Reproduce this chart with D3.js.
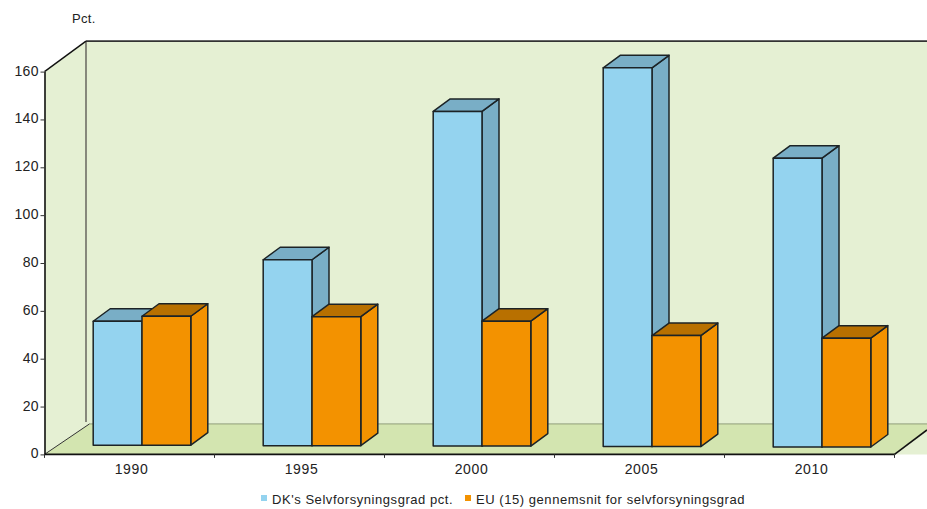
<!DOCTYPE html>
<html><head><meta charset="utf-8">
<script src="https://cdn.jsdelivr.net/npm/d3@7/dist/d3.min.js"></script>
<style>
html,body{margin:0;padding:0;background:#fff}
svg{display:block}
text{font-family:"Liberation Sans",Arial,sans-serif;fill:#222}
</style></head><body>
<svg id="chart" width="927" height="509"></svg>
<script>
// Self-sufficiency rate, Denmark against the EU-15 average
const years = ["1990", "1995", "2000", "2005", "2010"];
const dkValues = [51.8, 77.7, 139.9, 158.3, 120.7];
const euValues = [53.9, 53.9, 52.2, 46.4, 45.5];
const yTicks = [0, 20, 40, 60, 80, 100, 120, 140, 160];
const seriesNames = ["DK's Selvforsyningsgrad pct.", "EU (15) gennemsnit for selvforsyningsgrad"];
const unitLabel = "Pct.";

const svg = d3.select("#chart");
const W = 927;

const x = d3.scaleBand().domain(years).range([44.5, 894.5]).padding(0);
const y = d3.scaleLinear().domain([0, 160]).range([454.4, 71.6]);

// The bars stand a little in from the front edge of the floor
const barWidth = 48.8;
const barShift = 12.5;
const depth = { dx: 17, dy: -12.5 };
const wallDepth = { dx: 41.5, dy: -30.5 };
const baseDrop = d3.scaleLinear().domain([0, 4]).range([9.2, 7.4]);

const colors = {
  wall: "#e5f0d3", floor: "#d3e5b0",
  dk: { front: "#94d3ef", top: "#79aec6", side: "#79aec6" },
  eu: { front: "#f39200", top: "#b87000", side: "#f39200" }
};

// Walls and floor
const x0 = x.range()[0], x1 = x.range()[1], yb = y(0), yt = y(160);
const poly = pts => pts.map(p => p.join(",")).join(" ");

svg.append("polygon")
  .attr("fill", colors.wall)
  .attr("points", poly([[x0, yt], [x0 + wallDepth.dx, yt + wallDepth.dy], [W, yt + wallDepth.dy], [W, yb], [x0, yb]]));
svg.append("polygon")
  .attr("fill", colors.floor)
  .attr("points", poly([[x0, yb], [x0 + 45, yb + wallDepth.dy], [W, yb + wallDepth.dy], [W, yb - 24.5], [x1, yb]]));

svg.append("line").attr("x1", x0 + 45).attr("x2", W).attr("y1", yb + wallDepth.dy).attr("y2", yb + wallDepth.dy)
  .attr("stroke", "#7c8a66").attr("stroke-width", 0.8);
svg.append("line").attr("x1", x0).attr("y1", yb).attr("x2", x0 + 45).attr("y2", yb + wallDepth.dy)
  .attr("stroke", "#333").attr("stroke-width", 1);
svg.append("line").attr("x1", x0 + wallDepth.dx).attr("x2", x0 + wallDepth.dx)
  .attr("y1", yt + wallDepth.dy).attr("y2", yb - 32.5)
  .attr("stroke", "#6f6f66").attr("stroke-width", 1.6);
svg.append("line").attr("x1", x0 + wallDepth.dx).attr("x2", W)
  .attr("y1", yt + wallDepth.dy).attr("y2", yt + wallDepth.dy)
  .attr("stroke", "#333").attr("stroke-width", 1.6);
svg.append("line").attr("x1", x0).attr("y1", yt).attr("x2", x0 + wallDepth.dx).attr("y2", yt + wallDepth.dy)
  .attr("stroke", "#111").attr("stroke-width", 1.4);
svg.append("line").attr("x1", x1).attr("y1", yb).attr("x2", W).attr("y2", yb - 24.5)
  .attr("stroke", "#111").attr("stroke-width", 1.6);

// One extruded bar: side, top, then front face
function drawBar(g, left, value, drop, palette) {
  const base = y(0) - drop;
  const top = base - (y(0) - y(value));
  const right = left + barWidth;
  const edge = { stroke: "#1c2326", "stroke-width": 1.5, "stroke-linejoin": "round" };
  const shape = (pts, fill) => {
    const p = g.append("polygon").attr("points", poly(pts)).attr("fill", fill);
    Object.entries(edge).forEach(([k, v]) => p.attr(k, v));
  };
  shape([[right, top], [right + depth.dx, top + depth.dy], [right + depth.dx, base + depth.dy], [right, base]], palette.side);
  shape([[left, top], [left + depth.dx, top + depth.dy], [right + depth.dx, top + depth.dy], [right, top]], palette.top);
  shape([[left, top], [right, top], [right, base], [left, base]], palette.front);
}

const bars = svg.append("g");
years.forEach((yr, i) => {
  const mid = x(yr) + x.bandwidth() / 2 + barShift;
  const g = bars.append("g");
  drawBar(g, mid - barWidth, dkValues[i], baseDrop(i), colors.dk);
  drawBar(g, mid, euValues[i], baseDrop(i), colors.eu);
});

// Axes
const yAxis = svg.append("g").attr("transform", `translate(${x0},0)`)
  .call(d3.axisLeft(y).tickValues(yTicks).tickSize(4).tickPadding(1.5).tickSizeOuter(0));
yAxis.select(".domain").attr("stroke", "#111").attr("stroke-width", 1.6);
yAxis.selectAll("line").attr("stroke", "#333");
yAxis.selectAll("text").attr("font-size", 14).attr("letter-spacing", "0.4px").attr("fill", "#222").attr("dy", "0.25em");

const xAxis = svg.append("g").attr("transform", `translate(0,${yb})`)
  .call(d3.axisBottom(x).tickSize(0).tickPadding(9.5));
xAxis.select(".domain").attr("stroke", "#111").attr("stroke-width", 1.6).attr("d", `M${x0},0H${x1}`);
xAxis.selectAll("text").attr("font-size", 14).attr("letter-spacing", "0.6px").attr("fill", "#222").attr("dx", 2);

svg.append("g").selectAll("line").data(d3.range(years.length + 1)).join("line")
  .attr("x1", i => x0 + i * x.bandwidth()).attr("x2", i => x0 + i * x.bandwidth())
  .attr("y1", yb).attr("y2", yb + 3.5).attr("stroke", "#333");

svg.append("text").attr("x", 72).attr("y", 22.5).attr("font-size", 13).attr("letter-spacing", "0.3px").text(unitLabel);

// Legend
const legendX = [261, 465];
const legendColors = [colors.dk.front, colors.eu.front];
const legend = svg.append("g").selectAll("g").data(seriesNames).join("g")
  .attr("transform", (d, i) => `translate(${legendX[i]},495)`);
legend.append("rect").attr("width", 6).attr("height", 6).attr("fill", (d, i) => legendColors[i]);
legend.append("text").attr("x", 11).attr("y", 9).attr("font-size", 13).attr("letter-spacing", "0.55px").text(d => d);
</script>
</body></html>
